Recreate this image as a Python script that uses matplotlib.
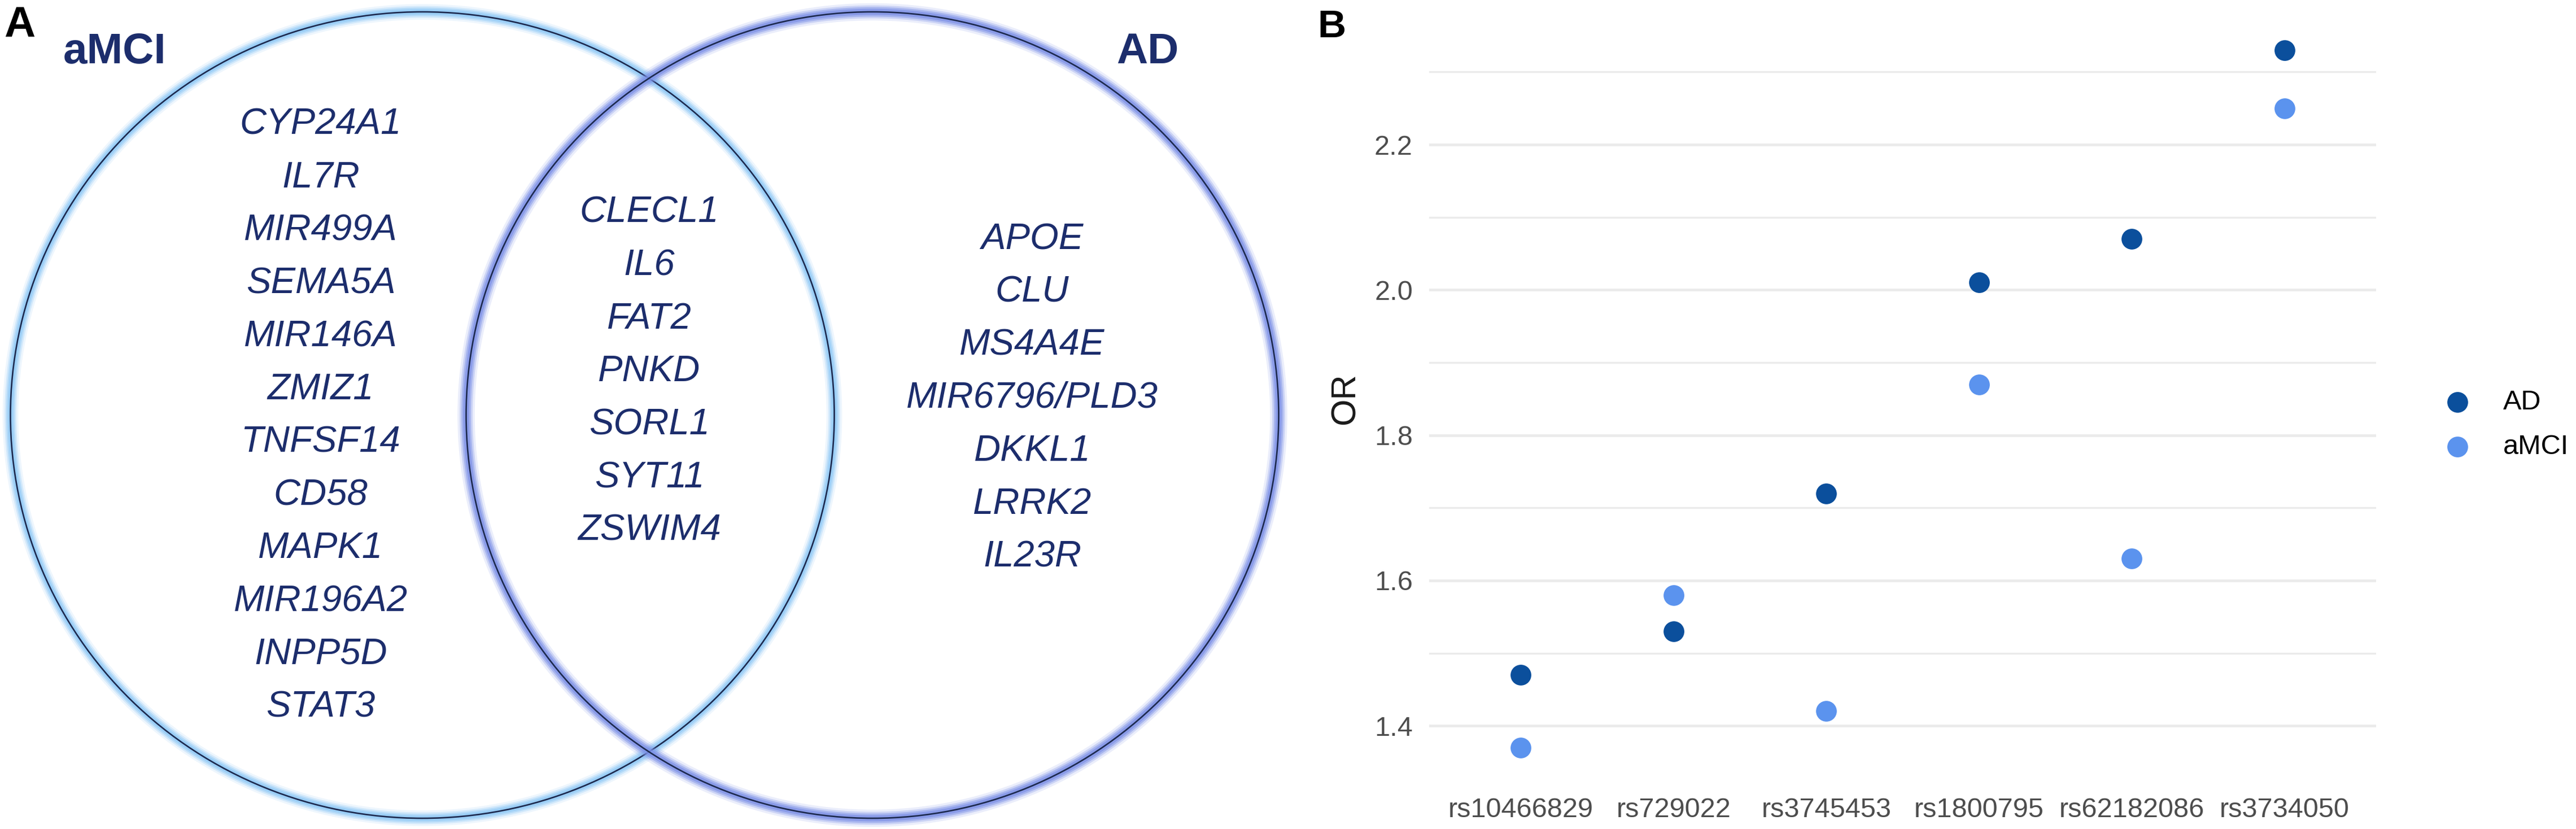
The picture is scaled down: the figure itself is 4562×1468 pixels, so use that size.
import numpy as np
import matplotlib
matplotlib.use("Agg")
import matplotlib.pyplot as plt
from matplotlib.patches import Ellipse

plt.rcParams['font.family'] = ['Liberation Sans', 'DejaVu Sans']

# ---- panel A: gene sets ----
amci_only = ["CYP24A1", "IL7R", "MIR499A", "SEMA5A", "MIR146A", "ZMIZ1",
             "TNFSF14", "CD58", "MAPK1", "MIR196A2", "INPP5D", "STAT3"]
shared = ["CLECL1", "IL6", "FAT2", "PNKD", "SORL1", "SYT11", "ZSWIM4"]
ad_only = ["APOE", "CLU", "MS4A4E", "MIR6796/PLD3", "DKKL1", "LRRK2", "IL23R"]
set_names = ["aMCI", "AD"]

# ---- panel B: odds ratios ----
snps = ["rs10466829", "rs729022", "rs3745453", "rs1800795", "rs62182086", "rs3734050"]
or_ad = [1.47, 1.53, 1.72, 2.01, 2.07, 2.33]
or_amci = [1.37, 1.58, 1.42, 1.87, 1.63, 2.25]

W, H = 4562, 1468
NAVY = '#1c2d6c'
fig = plt.figure(figsize=(W / 100, H / 100), dpi=100)

# overlay in pixel coords for the venn and panel letters
ov = fig.add_axes([0, 0, 1, 1])
ov.set_xlim(0, W)
ov.set_ylim(H, 0)
ov.axis('off')

def venn_circle(cx, cy, w, h, glow, scale=1.0):
    for lw, a in [(20, 0.15), (15, 0.28), (11, 0.45), (7, 0.65)]:
        ov.add_patch(Ellipse((cx, cy), w, h, fill=False, ec=glow, lw=lw * scale, alpha=a))
    ov.add_patch(Ellipse((cx, cy), w, h, fill=False, ec='#1d2a4f', lw=1.9))

venn_circle(748, 735, 1459, 1428, '#8fc8f6')
venn_circle(1545, 735, 1439, 1428, '#7b8fe6', scale=1.1)

def gene_column(genes, x, base0, step=93.8):
    for i, g in enumerate(genes):
        ov.text(x, base0 + i * step, g, ha='center', va='baseline',
                fontsize=47, style='italic', color=NAVY)

gene_column(amci_only, 568, 238)
gene_column(shared, 1150, 394)
gene_column(ad_only, 1828, 441)

ov.text(112, 112, set_names[0], ha='left', va='baseline', fontsize=55,
        fontweight='bold', color=NAVY)
ov.text(2032, 112, set_names[1], ha='center', va='baseline', fontsize=55,
        fontweight='bold', color=NAVY)

ov.text(7, 65, "A", ha='left', va='baseline', fontsize=55, fontweight='bold', color='black')
ov.text(2333, 66, "B", ha='left', va='baseline', fontsize=50, fontweight='bold', color='black')
ov.text(2383, 706, "OR", ha='center', va='center', rotation=90, fontsize=44, color='#1a1a1a')

# ---- panel B axes ----
left, right = 2531, 4208
y_lo, y_hi = 1.32, 2.38
top_px = 256 - (y_hi - 2.2) * 1286.5
bot_px = 256 + (2.2 - y_lo) * 1286.5
ax = fig.add_axes([left / W, 1 - bot_px / H, (right - left) / W, (bot_px - top_px) / H])

x = np.arange(len(snps))
ax.scatter(x, or_ad, s=700, color='#0b4f9c', label='AD', zorder=3, linewidths=0)
ax.scatter(x, or_amci, s=700, color='#5b93ee', label='aMCI', zorder=3, linewidths=0)

ax.set_xlim(-0.6, len(snps) - 0.4)
ax.set_ylim(y_lo, y_hi)
ax.set_xticks(x)
ax.set_xticklabels(snps)
ax.set_yticks([1.4, 1.6, 1.8, 2.0, 2.2])
ax.set_yticks([1.5, 1.7, 1.9, 2.1, 2.3], minor=True)
ax.grid(axis='y', which='major', color='#ebebeb', lw=3.4)
ax.grid(axis='y', which='minor', color='#ebebeb', lw=2.4)
ax.set_axisbelow(True)
ax.tick_params(axis='both', which='both', length=0, labelsize=35, colors='#4d4d4d')
ax.tick_params(axis='y', pad=21)
ax.tick_params(axis='x', pad=17)
for s in ax.spines.values():
    s.set_visible(False)

ax.legend(loc='center left', bbox_to_anchor=(4328 / W, 1 - 752 / H),
          bbox_transform=fig.transFigure, frameon=False, fontsize=35,
          borderpad=0, handlelength=1.0, handletextpad=1.15, labelspacing=0.7,
          borderaxespad=0)

fig.savefig("out.png", dpi=100, facecolor='white')
